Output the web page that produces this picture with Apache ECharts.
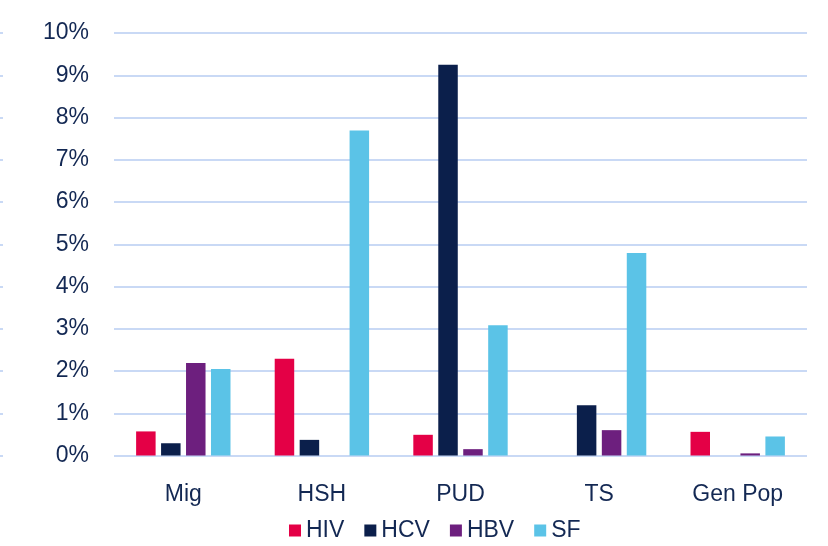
<!DOCTYPE html>
<html>
<head>
<meta charset="utf-8">
<script src="https://cdn.jsdelivr.net/npm/echarts@6/dist/echarts.min.js"></script>
<style>
  html, body { margin: 0; padding: 0; background: #ffffff; }
  #chart { width: 828px; height: 546px; }
</style>
</head>
<body>
<div id="chart"></div>
<script>
// Prevalence by population group (%)
const categories = ['Mig', 'HSH', 'PUD', 'TS', 'Gen Pop'];
const hiv = [0.57, 2.29, 0.49, 0, 0.56];
const hcv = [0.29, 0.37, 9.25, 1.19, 0];
const hbv = [2.19, 0, 0.15, 0.60, 0.05];
const sf  = [2.05, 7.69, 3.08, 4.79, 0.45];

const seriesNames = ['HIV', 'HCV', 'HBV', 'SF'];
const seriesData = [hiv, hcv, hbv, sf];
const colors = ['#E40046', '#0B1F4B', '#6D1F7E', '#5BC3E7'];

const textColor = '#132853';
const gridColor = '#c9d9f5';
const font = 'Liberation Sans, Arial, sans-serif';

const chart = echarts.init(document.getElementById('chart'), null, { renderer: 'canvas' });

chart.setOption({
  animation: false,
  backgroundColor: '#ffffff',
  color: colors,
  grid: { left: 114, right: 21, top: 33, bottom: 90.5, containLabel: false },
  legend: {
    data: seriesNames,
    left: 289,
    bottom: 4,
    padding: 0,
    itemWidth: 12,
    itemHeight: 12,
    itemGap: 20,
    icon: 'rect',
    textStyle: { color: textColor, fontSize: 23, fontFamily: font }
  },
  xAxis: {
    type: 'category',
    data: categories,
    axisLine: { show: false },
    axisTick: { show: false },
    axisLabel: { color: textColor, fontSize: 23, fontFamily: font, margin: 28 }
  },
  yAxis: [
    {
      type: 'value',
      min: 0,
      max: 10,
      interval: 1,
      axisLine: { show: false },
      axisTick: { show: false },
      axisLabel: { formatter: '{value}%', color: textColor, fontSize: 23, fontFamily: font, margin: 25 },
      splitLine: { lineStyle: { color: gridColor, width: 2 } }
    },
    {
      // small tick marks along the left border
      type: 'value',
      min: 0,
      max: 10,
      interval: 1,
      position: 'left',
      offset: 111,
      axisLine: { show: false },
      axisTick: { show: true, length: 3, lineStyle: { color: gridColor, width: 2 } },
      axisLabel: { show: false },
      splitLine: { show: false }
    }
  ],
  series: seriesNames.map((name, i) => ({
    name: name,
    type: 'bar',
    data: seriesData[i],
    barWidth: 19.5,
    barGap: '28%',
    itemStyle: { color: colors[i] }
  }))
});
</script>
</body>
</html>
